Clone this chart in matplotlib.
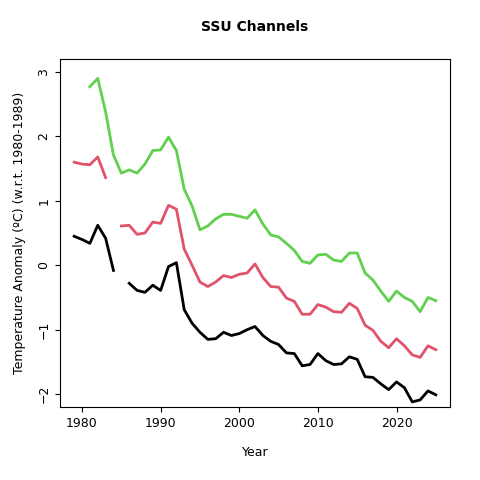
import numpy as np
import matplotlib
matplotlib.use("Agg")
import matplotlib.pyplot as plt

years = np.arange(1979, 2026)
nan = np.nan
black = [0.45,0.40,0.34,0.62,0.42,-0.08,nan,-0.28,-0.39,-0.42,-0.31,-0.39,-0.02,0.04,-0.69,-0.90,-1.04,-1.15,-1.14,-1.04,-1.09,-1.06,-1.00,-0.95,-1.09,-1.18,-1.23,-1.36,-1.37,-1.56,-1.54,-1.37,-1.48,-1.54,-1.53,-1.42,-1.46,-1.73,-1.74,-1.84,-1.93,-1.81,-1.90,-2.12,-2.09,-1.95,-2.01]
red = [1.60,1.57,1.56,1.68,1.36,nan,0.61,0.62,0.48,0.50,0.67,0.65,0.93,0.87,0.25,0.0,-0.26,-0.33,-0.26,-0.16,-0.19,-0.14,-0.12,0.02,-0.19,-0.33,-0.34,-0.51,-0.56,-0.76,-0.76,-0.61,-0.65,-0.72,-0.73,-0.59,-0.67,-0.93,-1.01,-1.18,-1.28,-1.14,-1.25,-1.39,-1.43,-1.25,-1.31]
green = [nan,nan,2.77,2.90,2.38,1.71,1.43,1.48,1.43,1.57,1.78,1.79,1.99,1.78,1.18,0.92,0.55,0.61,0.72,0.79,0.79,0.76,0.73,0.86,0.64,0.47,0.44,0.34,0.23,0.06,0.03,0.16,0.17,0.08,0.06,0.19,0.19,-0.12,-0.23,-0.40,-0.56,-0.40,-0.50,-0.56,-0.72,-0.50,-0.55]

fig = plt.figure(figsize=(4.8, 4.8), dpi=100)
ax = fig.add_axes([0.125, 0.152, 0.8125, 0.725])
ax.plot(years, black, color="black", lw=2)
ax.plot(years, red, color="#DF536B", lw=2)
ax.plot(years, green, color="#61D04F", lw=2)
ax.set_xlim(1977.2, 2026.8)
ax.set_ylim(-2.2, 3.2)
ax.set_xticks([1980, 1990, 2000, 2010, 2020])
ax.set_yticks([-2, -1, 0, 1, 2, 3])
ax.tick_params(axis='y', labelrotation=90)
for lab in ax.get_yticklabels():
    lab.set_va('center')
ax.tick_params(labelsize=9)
ax.set_xlabel("Year", fontsize=9, labelpad=12)
ax.set_ylabel("Temperature Anomaly (ºC) (w.r.t. 1980-1989)", fontsize=9, labelpad=8)
ax.set_title("SSU Channels", fontsize=10, fontweight='bold', pad=20)
fig.savefig("out.png", dpi=100)
